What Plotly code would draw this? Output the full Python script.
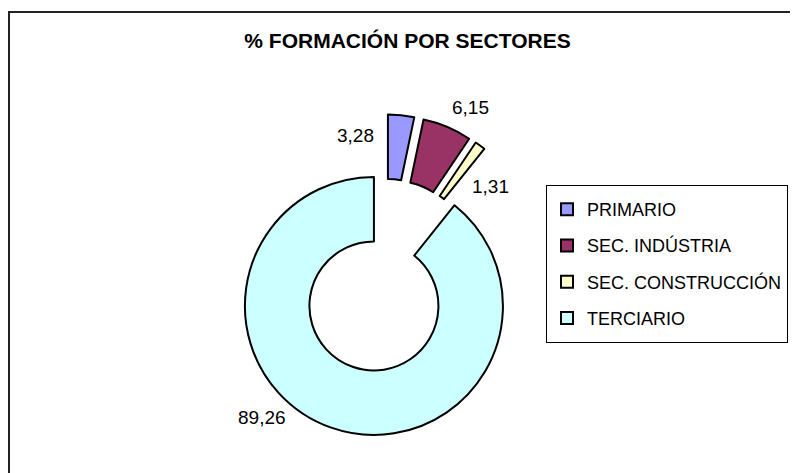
import plotly.graph_objects as go

# ---- data ----
categories = ["PRIMARIO", "SEC. INDÚSTRIA", "SEC. CONSTRUCCIÓN", "TERCIARIO"]
values = [3.28, 6.15, 1.31, 89.26]
colors = ["#9999FF", "#993366", "#FFFFCC", "#CCFFFF"]
title_text = "% FORMACIÓN POR SECTORES"

# page has an 8px body margin -> figure sized to fill the rest of the window
OFF = 8
W, H = 790, 465
FONT = "Liberation Sans, Arial, sans-serif"


def fx(x):
    return (x - OFF) / W


def fy(y):
    return 1 - (y - OFF) / H


# label placement (screen pixel positions of the value labels, Excel-style)
label_pos = [(355, 135), (470, 107), (490, 186), (262, 417)]

legend_labels = [f"<span style='font-size:18px;baseline-shift:3px'>{c}</span>"
                 for c in categories]

cx, cy, half = 384.6, 275.5, 161.25

fig = go.Figure(
    go.Pie(
        labels=legend_labels,
        values=values,
        sort=False,
        direction="clockwise",
        rotation=0,
        hole=0.5,
        pull=[0.25] * len(values),
        marker=dict(colors=colors, line=dict(color="black", width=2)),
        textinfo="none",
        hoverinfo="label+value",
        domain=dict(x=[fx(cx - half), fx(cx + half)],
                    y=[fy(cy + half), fy(cy - half)]),
    )
)

annotations = []
for v, (x, y) in zip(values, label_pos):
    annotations.append(dict(
        x=fx(x), y=fy(y), xref="paper", yref="paper",
        text=f"{v:.2f}".replace(".", ","), showarrow=False,
        xanchor="center", yanchor="middle",
        font=dict(family=FONT, size=19, color="black"),
    ))

fig.update_layout(
    width=W, height=H,
    margin=dict(l=0, r=0, t=0, b=0, autoexpand=False),
    paper_bgcolor="white", plot_bgcolor="white",
    title=dict(text=f"<b>{title_text}</b>", x=fx(407.5), y=fy(40.5),
               xanchor="center", yanchor="middle",
               font=dict(family=FONT, size=21, color="black")),
    legend=dict(x=fx(546), y=fy(185), xanchor="left", yanchor="top",
                bordercolor="black", borderwidth=1, bgcolor="white",
                font=dict(family=FONT, size=25.6, color="black"),
                traceorder="normal"),
    annotations=annotations,
    shapes=[dict(type="rect", xref="paper", yref="paper",
                 x0=fx(9), x1=1.05, y0=-0.05, y1=fy(12),
                 line=dict(color="#222222", width=2), fillcolor="rgba(0,0,0,0)")],
    showlegend=True,
)

fig.write_html("out.html")
